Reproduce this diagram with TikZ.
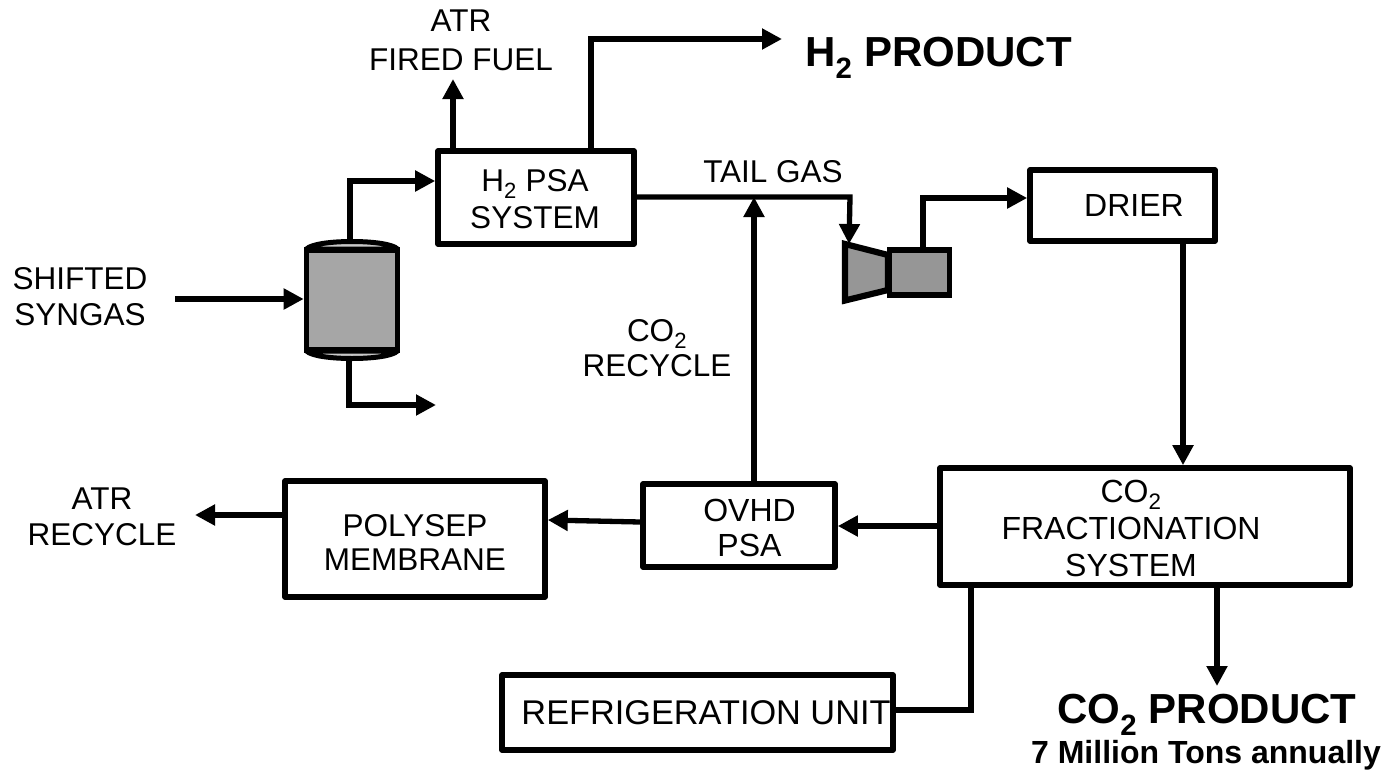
\documentclass[tikz,border=0pt]{standalone}
\usepackage{fontspec}
\setmainfont{Liberation Sans}
\usetikzlibrary{arrows.meta,calc}
\definecolor{vesselgray}{HTML}{A6A6A6}
\definecolor{compgray}{HTML}{969696}
\definecolor{sliver}{HTML}{C8C8C8}
\tikzset{
  x=1pt,y=-1pt,
  unit/.style={draw=black,line width=5.6pt,line join=round,fill=white,inner sep=0pt,minimum width=#1},
  lab/.style={inner sep=0pt,align=center,font=\fontsize{31.5}{36}\selectfont},
  flow/.style={line width=5.3pt,-{Triangle[length=20pt,width=20pt]},line join=miter},
  plain/.style={line width=5.3pt,line join=miter},
  big/.style={inner sep=0pt,font=\bfseries\fontsize{42}{46}\selectfont},
}
\begin{document}
\begin{tikzpicture}
\useasboundingbox (0,0) rectangle (1386,771);
% boxes
\node[unit=196pt,minimum height=93pt] (psa) at (536,197.5) {};
\node[unit=185pt,minimum height=71pt] (drier) at (1122.5,205.5) {};
\node[unit=410pt,minimum height=117pt] (frac) at (1145,526.5) {};
\node[unit=192pt,minimum height=83pt] (ovhd) at (739,525.5) {};
\node[unit=260pt,minimum height=116pt] (poly) at (415,539) {};
\node[unit=391pt,minimum height=75pt] (refrig) at (697.5,712.5) {};
% box texts
\node[lab,font=\fontsize{31.5}{37}\selectfont] (psatext) at (535,199.5) {H\textsubscript{2} PSA\\SYSTEM};
\node[lab,font=\fontsize{32}{36}\selectfont] (driertext) at (1134,205.5) {DRIER};
\node[lab,font=\fontsize{32}{37}\selectfont] (fractext) at (1131,528) {CO\textsubscript{2}\\FRACTIONATION\\SYSTEM};
\node[lab,font=\fontsize{32}{35}\selectfont] (ovhdtext) at (749.5,527.5) {OVHD\\PSA};
\node[lab,font=\fontsize{31.5}{34}\selectfont] (polytext) at (415,542) {POLYSEP\\MEMBRANE};
\node[lab,font=\fontsize{34.3}{38}\selectfont] (refrigtext) at (706,712.5) {REFRIGERATION UNIT};
% vessel
\node[draw=black,line width=5.6pt,fill=vesselgray,minimum width=91pt,minimum height=100pt,inner sep=0pt] (vessel) at (352,300) {};
\draw[line width=5pt,fill=sliver,line join=round] (306.5,249) .. controls (316,239) and (388,239) .. (397.5,249) -- cycle;
\draw[line width=5pt,fill=sliver,line join=round] (306.5,351) .. controls (316,361) and (388,361) .. (397.5,351) -- cycle;
% compressor
\node[draw=black,line width=5.6pt,fill=compgray,minimum width=60pt,minimum height=45pt,inner sep=0pt] (motor) at (919.5,272.5) {};
\draw[line width=6.2pt,fill=compgray,miter limit=10] (888,255) -- (845,244) -- (845,300.5) -- (888,290) -- cycle;
\coordinate (compin) at (849,244);
% labels
\node[lab] (syn) at (80,297) {SHIFTED\\SYNGAS};
\node[lab,font=\fontsize{31.5}{39}\selectfont] (fuel) at (461,40) {ATR\\FIRED FUEL};
\node[big,anchor=west] (h2) at (805,58) {H\textsubscript{2} PRODUCT};
\node[lab] (tail) at (773,172) {TAIL GAS};
\node[lab,font=\fontsize{31.5}{35}\selectfont] (rec) at (657,348) {CO\textsubscript{2}\\RECYCLE};
\node[lab] (atr) at (102,517) {ATR\\RECYCLE};
\node[big] (co2) at (1207,715) {CO\textsubscript{2} PRODUCT};
\node[inner sep=0pt,font=\bfseries\fontsize{32}{36}\selectfont] (tons) at (1206,755) {7 Million Tons annually};
% connectors
\coordinate (synend) at (175,299);
\draw[flow] (synend) -- (vessel.west |- synend);
\draw[flow] (350,241) -- (350,181) -- (psa.west |- 350,181);
\coordinate (bottomout) at (436,405);
\draw[flow] (349,359) -- (349,405) -- (bottomout);
\coordinate (fuelend) at (453,79);
\draw[flow] (psa.north -| fuelend) -- (fuelend);
\coordinate (h2end) at (782,39);
\draw[flow] (psa.north -| 591,0) -- (591,39) -- (h2end);
\draw[flow] (psa.east |- 0,197) -- (850,197) -- (compin);
\draw[flow] (motor.north -| 923,0) -- (923,198) -- (drier.west |- 0,198);
\draw[flow] (drier.south -| 1183,0) -- (frac.north -| 1183,0);
\draw[flow] (ovhd.north -| 754,0) -- (754,197);
\draw[flow] (frac.west |- 0,526) -- (ovhd.east |- 0,526);
\draw[flow] (ovhd.west |- 0,522) -- (poly.east |- 0,520);
\coordinate (atrend) at (195,515);
\draw[flow] (poly.west |- atrend) -- (atrend);
\draw[plain] (frac.south -| 971,0) -- (971,710) -- (refrig.east |- 0,710);
\coordinate (co2end) at (1217,686);
\draw[flow] (frac.south -| co2end) -- (co2end);
\end{tikzpicture}
\end{document}
